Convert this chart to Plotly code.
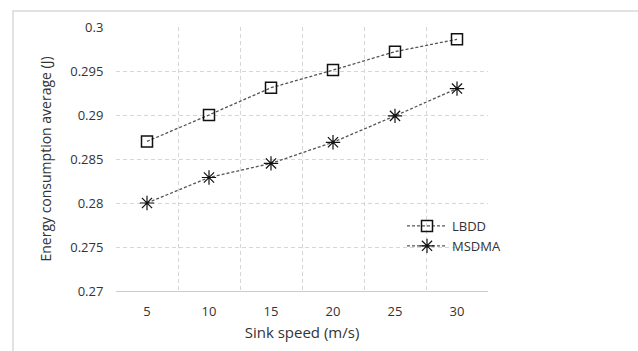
import plotly.graph_objects as go

speeds = ["5", "10", "15", "20", "25", "30"]
lbdd = [0.2870, 0.2900, 0.2931, 0.2951, 0.2972, 0.2986]
msdma = [0.2800, 0.2829, 0.2845, 0.2869, 0.2899, 0.2930]
y_ticks = [0.27, 0.275, 0.28, 0.285, 0.29, 0.295, 0.3]
y_tick_text = ["0.27", "0.275", "0.28", "0.285", "0.29", "0.295", "0.3"]

FONT = "Open Sans, Lato, sans-serif"
W, H = 638, 351
L, R, T, B = 116, 150, 27, 60
pw, ph = W - L - R, H - T - B

fig = go.Figure()
fig.add_trace(go.Scatter(
    x=speeds, y=lbdd, name="LBDD", mode="lines+markers",
    line=dict(color="#555555", width=1.3, dash="3px,2px"),
    marker=dict(symbol="square-open", size=11, color="#111111", line=dict(width=1.5, color="#111111")),
))
fig.add_trace(go.Scatter(
    x=speeds, y=msdma, name="MSDMA", mode="lines+markers",
    line=dict(color="#555555", width=1.3, dash="3px,2px"),
    marker=dict(symbol="asterisk-open", size=12, color="#111111", line=dict(width=1.2, color="#111111")),
))

fig.update_layout(
    width=W, height=H,
    margin=dict(l=L, r=R, t=T, b=B),
    paper_bgcolor="white", plot_bgcolor="white",
    font=dict(family=FONT, size=13, color="#333333"),
    showlegend=True,
    legend=dict(x=(402 - L) / pw, y=1 - (211 - T) / ph, xanchor="left", yanchor="top",
                bgcolor="rgba(0,0,0,0)", font=dict(size=13, color="#333333"),
                itemwidth=40, tracegroupgap=8),
    xaxis=dict(
        type="category", categoryorder="array", categoryarray=speeds,
        range=[-0.5, 5.5], tickson="boundaries", automargin=False,
        showgrid=True, gridcolor="#d6d6d6", griddash="4px,3px", gridwidth=1,
        showline=True, linecolor="#cccccc", linewidth=1,
        ticks="", ticklabelstandoff=8,
        tickfont=dict(size=13, color="#333333"),
        title=dict(text="Sink speed (m/s)", font=dict(size=15, color="#333333"), standoff=8),
        zeroline=False,
    ),
    yaxis=dict(
        range=[0.27, 0.3], tickvals=y_ticks, ticktext=y_tick_text,
        showgrid=True, gridcolor="#d6d6d6", griddash="4px,3px", gridwidth=1,
        showline=False, ticks="outside", ticklen=9, tickcolor="rgba(0,0,0,0)",
        tickfont=dict(size=13, color="#333333"),
        title=dict(text="Energy consumption average (J)", font=dict(size=14, color="#333333"), standoff=15),
        zeroline=False,
    ),
    shapes=[dict(type="rect", xref="paper", yref="paper",
                 x0=(13 - L) / pw, x1=(W + 5 - L) / pw,
                 y0=-(B + 5) / ph, y1=1 + (T - 11) / ph,
                 line=dict(color="#d9d9d9", width=1.5), layer="below")],
)

fig.write_html("out.html")
